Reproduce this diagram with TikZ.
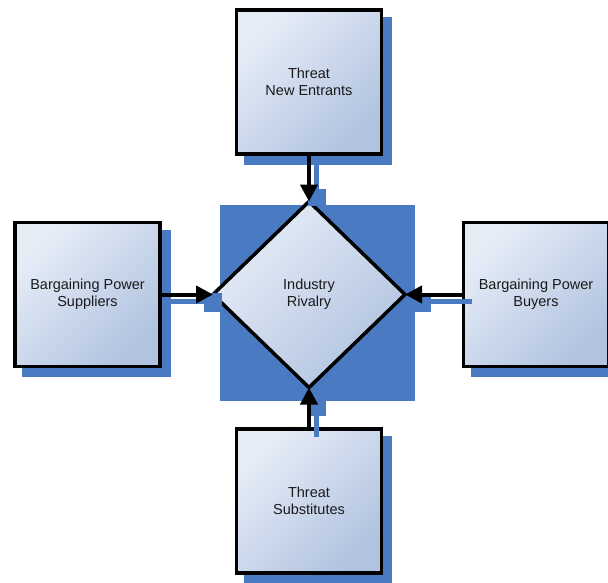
\documentclass[tikz,border=0pt]{standalone}
\usepackage{fontspec}
\setmainfont{Liberation Sans}
\usetikzlibrary{shapes.geometric,arrows.meta}
\definecolor{shadowblue}{HTML}{4A7BC2}
\definecolor{filllight}{HTML}{E6EDF7}
\definecolor{filldark}{HTML}{B1C3E0}
\definecolor{textdark}{HTML}{1A1A1A}
\pgfdeclarelayer{bg}
\pgfsetlayers{bg,main}
\begin{document}
\begin{tikzpicture}[x=1pt,y=-1pt,
  forcebox/.style={draw=black, line width=3.5pt, top color=filllight, bottom color=filldark, shading angle=45,
    minimum width=145pt, minimum height=144pt, inner sep=0pt, align=center,
    font=\fontsize{14.5}{17}\selectfont, text=textdark},
  rivalry/.style={diamond, draw=black, line width=3.5pt, top color=filllight, bottom color=filldark, shading angle=45,
    minimum width=192pt, minimum height=186pt, inner sep=0pt, outer sep=0pt, align=center,
    font=\fontsize{14.5}{17}\selectfont, text=textdark},
  shadowfill/.style={fill=shadowblue, draw=none},
  shadowline/.style={draw=shadowblue, line width=5pt},
  conn/.style={draw=black, line width=4pt, -{Triangle[length=17pt,width=17pt]}}]
\useasboundingbox (0,0) rectangle (608,582);
% nodes
\node[forcebox] (top) at (309,82) {Threat\\New Entrants};
\node[forcebox] (left) at (87.5,294.5) {Bargaining Power\\Suppliers};
\node[forcebox] (right) at (536,294.5) {Bargaining Power\\Buyers};
\node[forcebox] (bottom) at (309,501) {Threat\\Substitutes};
\node[rivalry] (dia) at (309,294.5) {Industry\\Rivalry};
% shadows behind
\begin{pgfonlayer}{bg}
  \foreach \b in {top,left,right,bottom}{
    \fill[shadowfill] ([shift={(9,9)}]\b.north west) rectangle ([shift={(9,9)}]\b.south east);
  }
  \fill[shadowfill] ([shift={(-89,-90)}]dia.center) rectangle ([shift={(106,106)}]dia.center);
\end{pgfonlayer}
% connector shadows
\draw[shadowline] ([shift={(7,8)}]top.south) -- ([shift={(7,-12)}]dia.north);
\fill[shadowfill] ([shift={(-1,-13)}]dia.north) rectangle ([shift={(17,4)}]dia.north);
\draw[shadowline] ([shift={(8,7)}]left.east) -- ([shift={(-9,7)}]dia.west);
\fill[shadowfill] ([shift={(-9,-2)}]dia.west) rectangle ([shift={(9,17)}]dia.west);
\draw[shadowline] ([shift={(10,7)}]right.west) -- ([shift={(26,7)}]dia.east);
\fill[shadowfill] ([shift={(8,0)}]dia.east) rectangle ([shift={(26,17)}]dia.east);
\draw[shadowline] ([shift={(7.5,10)}]bottom.north) -- ([shift={(7.5,28)}]dia.south);
\fill[shadowfill] ([shift={(0,11)}]dia.south) rectangle ([shift={(17,28)}]dia.south);
% connectors
\draw[conn] (top.south) -- (dia.north);
\draw[conn] (left.east) -- (dia.west);
\draw[conn] (right.west) -- (dia.east);
\draw[conn] (bottom.north) -- (dia.south);
\end{tikzpicture}
\end{document}
